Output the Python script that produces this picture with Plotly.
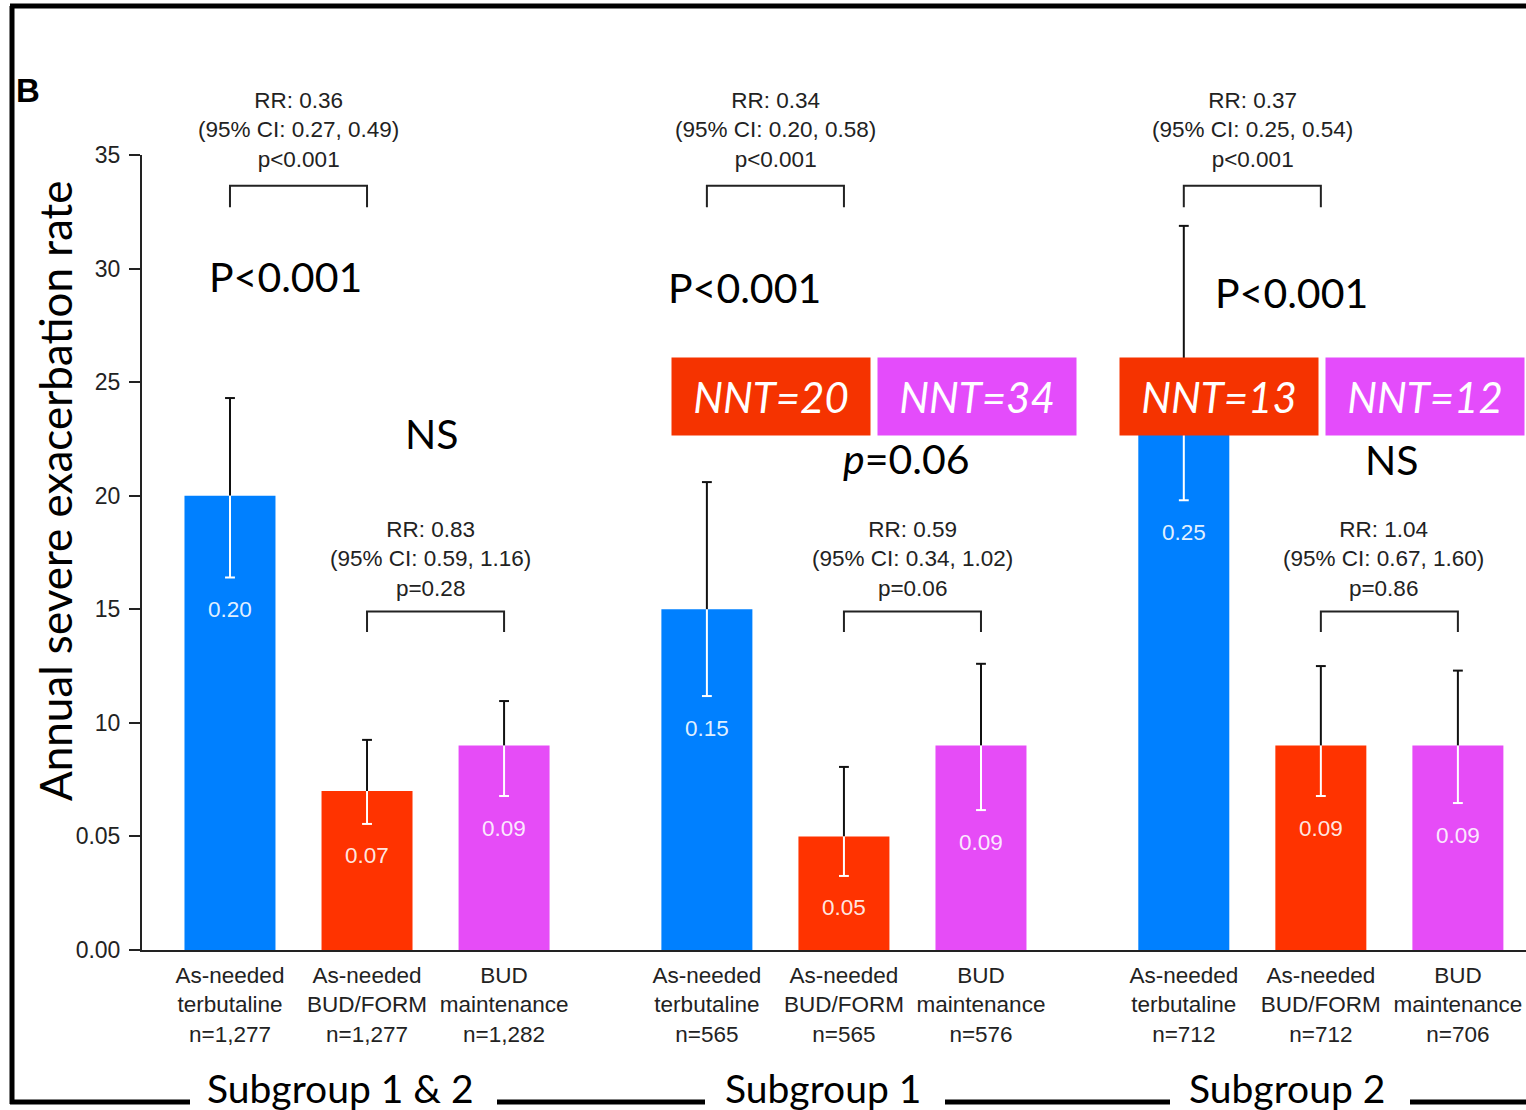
import plotly.graph_objects as go

# ---- data -------------------------------------------------------------
groups = ["Subgroup 1 & 2", "Subgroup 1", "Subgroup 2"]
treatments = ["As-needed<br>terbutaline", "As-needed<br>BUD/FORM", "BUD<br>maintenance"]
n_per_arm = [["1,277", "1,277", "1,282"], ["565", "565", "576"], ["712", "712", "706"]]

# annual severe exacerbation rate per arm
rates = [[0.20, 0.07, 0.09], [0.15, 0.05, 0.09], [0.25, 0.09, 0.09]]
ci_upper = [[0.243, 0.0925, 0.1096], [0.206, 0.0806, 0.126], [0.3188, 0.125, 0.123]]
ci_lower = [[0.164, 0.0555, 0.0678], [0.1118, 0.0326, 0.0616], [0.198, 0.0678, 0.0647]]

# rate ratios: terbutaline vs BUD/FORM (top) and BUD/FORM vs BUD maintenance (bottom)
rr_top = [("0.36", "0.27, 0.49", "p<0.001"), ("0.34", "0.20, 0.58", "p<0.001"),
          ("0.37", "0.25, 0.54", "p<0.001")]
rr_bottom = [("0.83", "0.59, 1.16", "p=0.28"), ("0.59", "0.34, 1.02", "p=0.06"),
             ("1.04", "0.67, 1.60", "p=0.86")]

big_top = ["P<0.001", "P<0.001", "P<0.001"]
big_bottom = ["NS", "<i>p</i>=0.06", "NS"]
nnt_bud_form = [None, 20, 13]
nnt_bud_maint = [None, 34, 12]

ytick_vals = [0.00, 0.05, 0.10, 0.15, 0.20, 0.25, 0.30, 0.35]
ytick_text = ["0.00", "0.05", "10", "15", "20", "25", "30", "35"]

# ---- styling ----------------------------------------------------------
W, H = 1526, 1110
L, R, T, B = 142, 1526, 155, 950          # plot area in pixels
BAR_COLORS = ["#0080ff", "#ff3300", "#e64cf7"]
NNT_COLORS = ["#f53300", "#e44cfb"]
SANS = "Liberation Sans, Arial, Helvetica, sans-serif"
BIG = "Lato, Calibri, sans-serif"
INK = "#222222"
SMALL = 22.5
GROUP_STEP = 3.48
BAR_W = 0.664
CAP = 0.036

def fx(p):
    return (p - L) / (R - L)

def fy(p):
    return (B - p) / (B - T)

xpos, yval, colors, ticktxt, up, lo = [], [], [], [], [], []
for g in range(3):
    for k in range(3):
        xpos.append(g * GROUP_STEP + k)
        yval.append(rates[g][k])
        colors.append(BAR_COLORS[k])
        ticktxt.append(f"{treatments[k]}<br>n={n_per_arm[g][k]}")
        up.append(ci_upper[g][k])
        lo.append(ci_lower[g][k])

fig = go.Figure()
fig.add_trace(go.Bar(x=xpos, y=yval, width=BAR_W, marker=dict(color=colors, line_width=0),
                     hoverinfo="skip", showlegend=False))

# error bars: upper half in black above the bar, lower half in white inside it
def whiskers(ends):
    xs, ys = [], []
    for x, y, e in zip(xpos, yval, ends):
        xs += [x, x, None, x - CAP, x + CAP, None]
        ys += [y, e, None, e, e, None]
    return xs, ys

ux, uy = whiskers(up)
lx, ly = whiskers(lo)
fig.add_trace(go.Scatter(x=ux, y=uy, mode="lines", line=dict(color="#111111", width=2),
                         hoverinfo="skip", showlegend=False, cliponaxis=False))
fig.add_trace(go.Scatter(x=lx, y=ly, mode="lines", line=dict(color="white", width=2),
                         hoverinfo="skip", showlegend=False))

# comparison brackets
bx, by = [], []
for g in range(3):
    a, b, c = (g * GROUP_STEP + k for k in range(3))
    bx += [a, a, b, b, None, b, b, c, c, None]
    by += [0.327, 0.3365, 0.3365, 0.327, None, 0.140, 0.149, 0.149, 0.140, None]
fig.add_trace(go.Scatter(x=bx, y=by, mode="lines", line=dict(color=INK, width=2),
                         hoverinfo="skip", showlegend=False, cliponaxis=False))

ann = []
# value labels inside the bars
for x, y, l in zip(xpos, yval, lo):
    ann.append(dict(x=x, y=l, yshift=-32, text=f"{y:.2f}", showarrow=False,
                    font=dict(family=SANS, size=SMALL, color="rgba(255,255,255,0.9)")))

top_x = [0.405, 3.758, 7.745]
top_y = [0.2963, 0.2915, 0.2895]
bot_x = [1.474, 4.933, 8.479]
bot_y = [0.2272, 0.2166, 0.2158]
nnt_x = [[None, None], [3.947, 5.451], [7.216, 8.719]]

for g in range(3):
    a = g * GROUP_STEP
    r1, c1, p1 = rr_top[g]
    ann.append(dict(x=a + 0.5, yref="paper", y=fy(130), xanchor="center", yanchor="middle",
                    text=f"RR: {r1}<br>(95% CI: {c1})<br>{p1}",
                    showarrow=False, font=dict(family=SANS, size=SMALL, color=INK)))
    r2, c2, p2 = rr_bottom[g]
    ann.append(dict(x=a + 1.5 - (0.04 if g != 1 else 0), y=0.1720,
                    text=f"RR: {r2}<br>(95% CI: {c2})<br>{p2}",
                    showarrow=False, font=dict(family=SANS, size=SMALL, color=INK)))
    ann.append(dict(x=top_x[g], y=top_y[g], text=big_top[g], showarrow=False,
                    font=dict(family=BIG, size=41, color="black")))
    ann.append(dict(x=bot_x[g], y=bot_y[g], text=big_bottom[g], showarrow=False,
                    font=dict(family=BIG, size=41, color="black")))
    for j, nnt in enumerate([nnt_bud_form[g], nnt_bud_maint[g]]):
        if nnt is None:
            continue
        ann.append(dict(x=nnt_x[g][j], y=0.2437, text=f"<i>NNT={nnt}</i>", showarrow=False,
                        width=198, height=77, borderpad=0, bgcolor=NNT_COLORS[j],
                        font=dict(family=BIG, size=42, color="white")))

# axis title, panel letter and subgroup captions
def paper_text(cx, cy, text, size, family, **kw):
    return dict(xref="paper", yref="paper", x=fx(cx), y=fy(cy), xanchor="center",
                yanchor="middle", text=text, showarrow=False,
                font=dict(family=family, size=size, color="black"), **kw)

ann.append(paper_text(55, 491, "Annual severe exacerbation rate", 44, BIG, textangle=-90))
ann.append(paper_text(28, 90, "<b>B</b>", 33, SANS))
for cx, name in zip([340, 823, 1287], groups):
    ann.append(paper_text(cx, 1088, name, 39, BIG))

# panel frame: left and top edges, bottom rule broken around captions
shapes = [
    dict(type="line", xref="paper", yref="paper", x0=fx(12), x1=fx(12), y0=fy(1104), y1=fy(6),
         line=dict(color="black", width=5)),
    dict(type="line", xref="paper", yref="paper", x0=fx(10), x1=fx(1530), y0=fy(6), y1=fy(6),
         line=dict(color="black", width=5)),
]
for s0, s1 in [(10, 190), (497, 705), (945, 1170), (1410, 1530)]:
    shapes.append(dict(type="line", xref="paper", yref="paper", x0=fx(s0), x1=fx(s1),
                       y0=fy(1102), y1=fy(1102), line=dict(color="black", width=5)))

fig.update_layout(
    width=W, height=H,
    margin=dict(l=L, r=W - R, t=T, b=H - B, pad=0),
    paper_bgcolor="white", plot_bgcolor="white",
    showlegend=False,
    annotations=ann, shapes=shapes,
    xaxis=dict(range=[-0.642, 9.457], tickvals=xpos, ticktext=ticktxt, ticks="",
               showline=True, linecolor=INK, linewidth=2, showgrid=False, zeroline=False,
               tickfont=dict(family=SANS, size=SMALL, color=INK), ticklabelstandoff=4),
    yaxis=dict(range=[0, 0.35], tickvals=ytick_vals, ticktext=ytick_text, ticks="outside",
               ticklen=11, tickwidth=2, tickcolor=INK, showline=True, linecolor=INK, linewidth=2,
               showgrid=False, zeroline=False,
               tickfont=dict(family=SANS, size=23, color=INK), ticklabelstandoff=4),
)

fig.write_html("out.html")
